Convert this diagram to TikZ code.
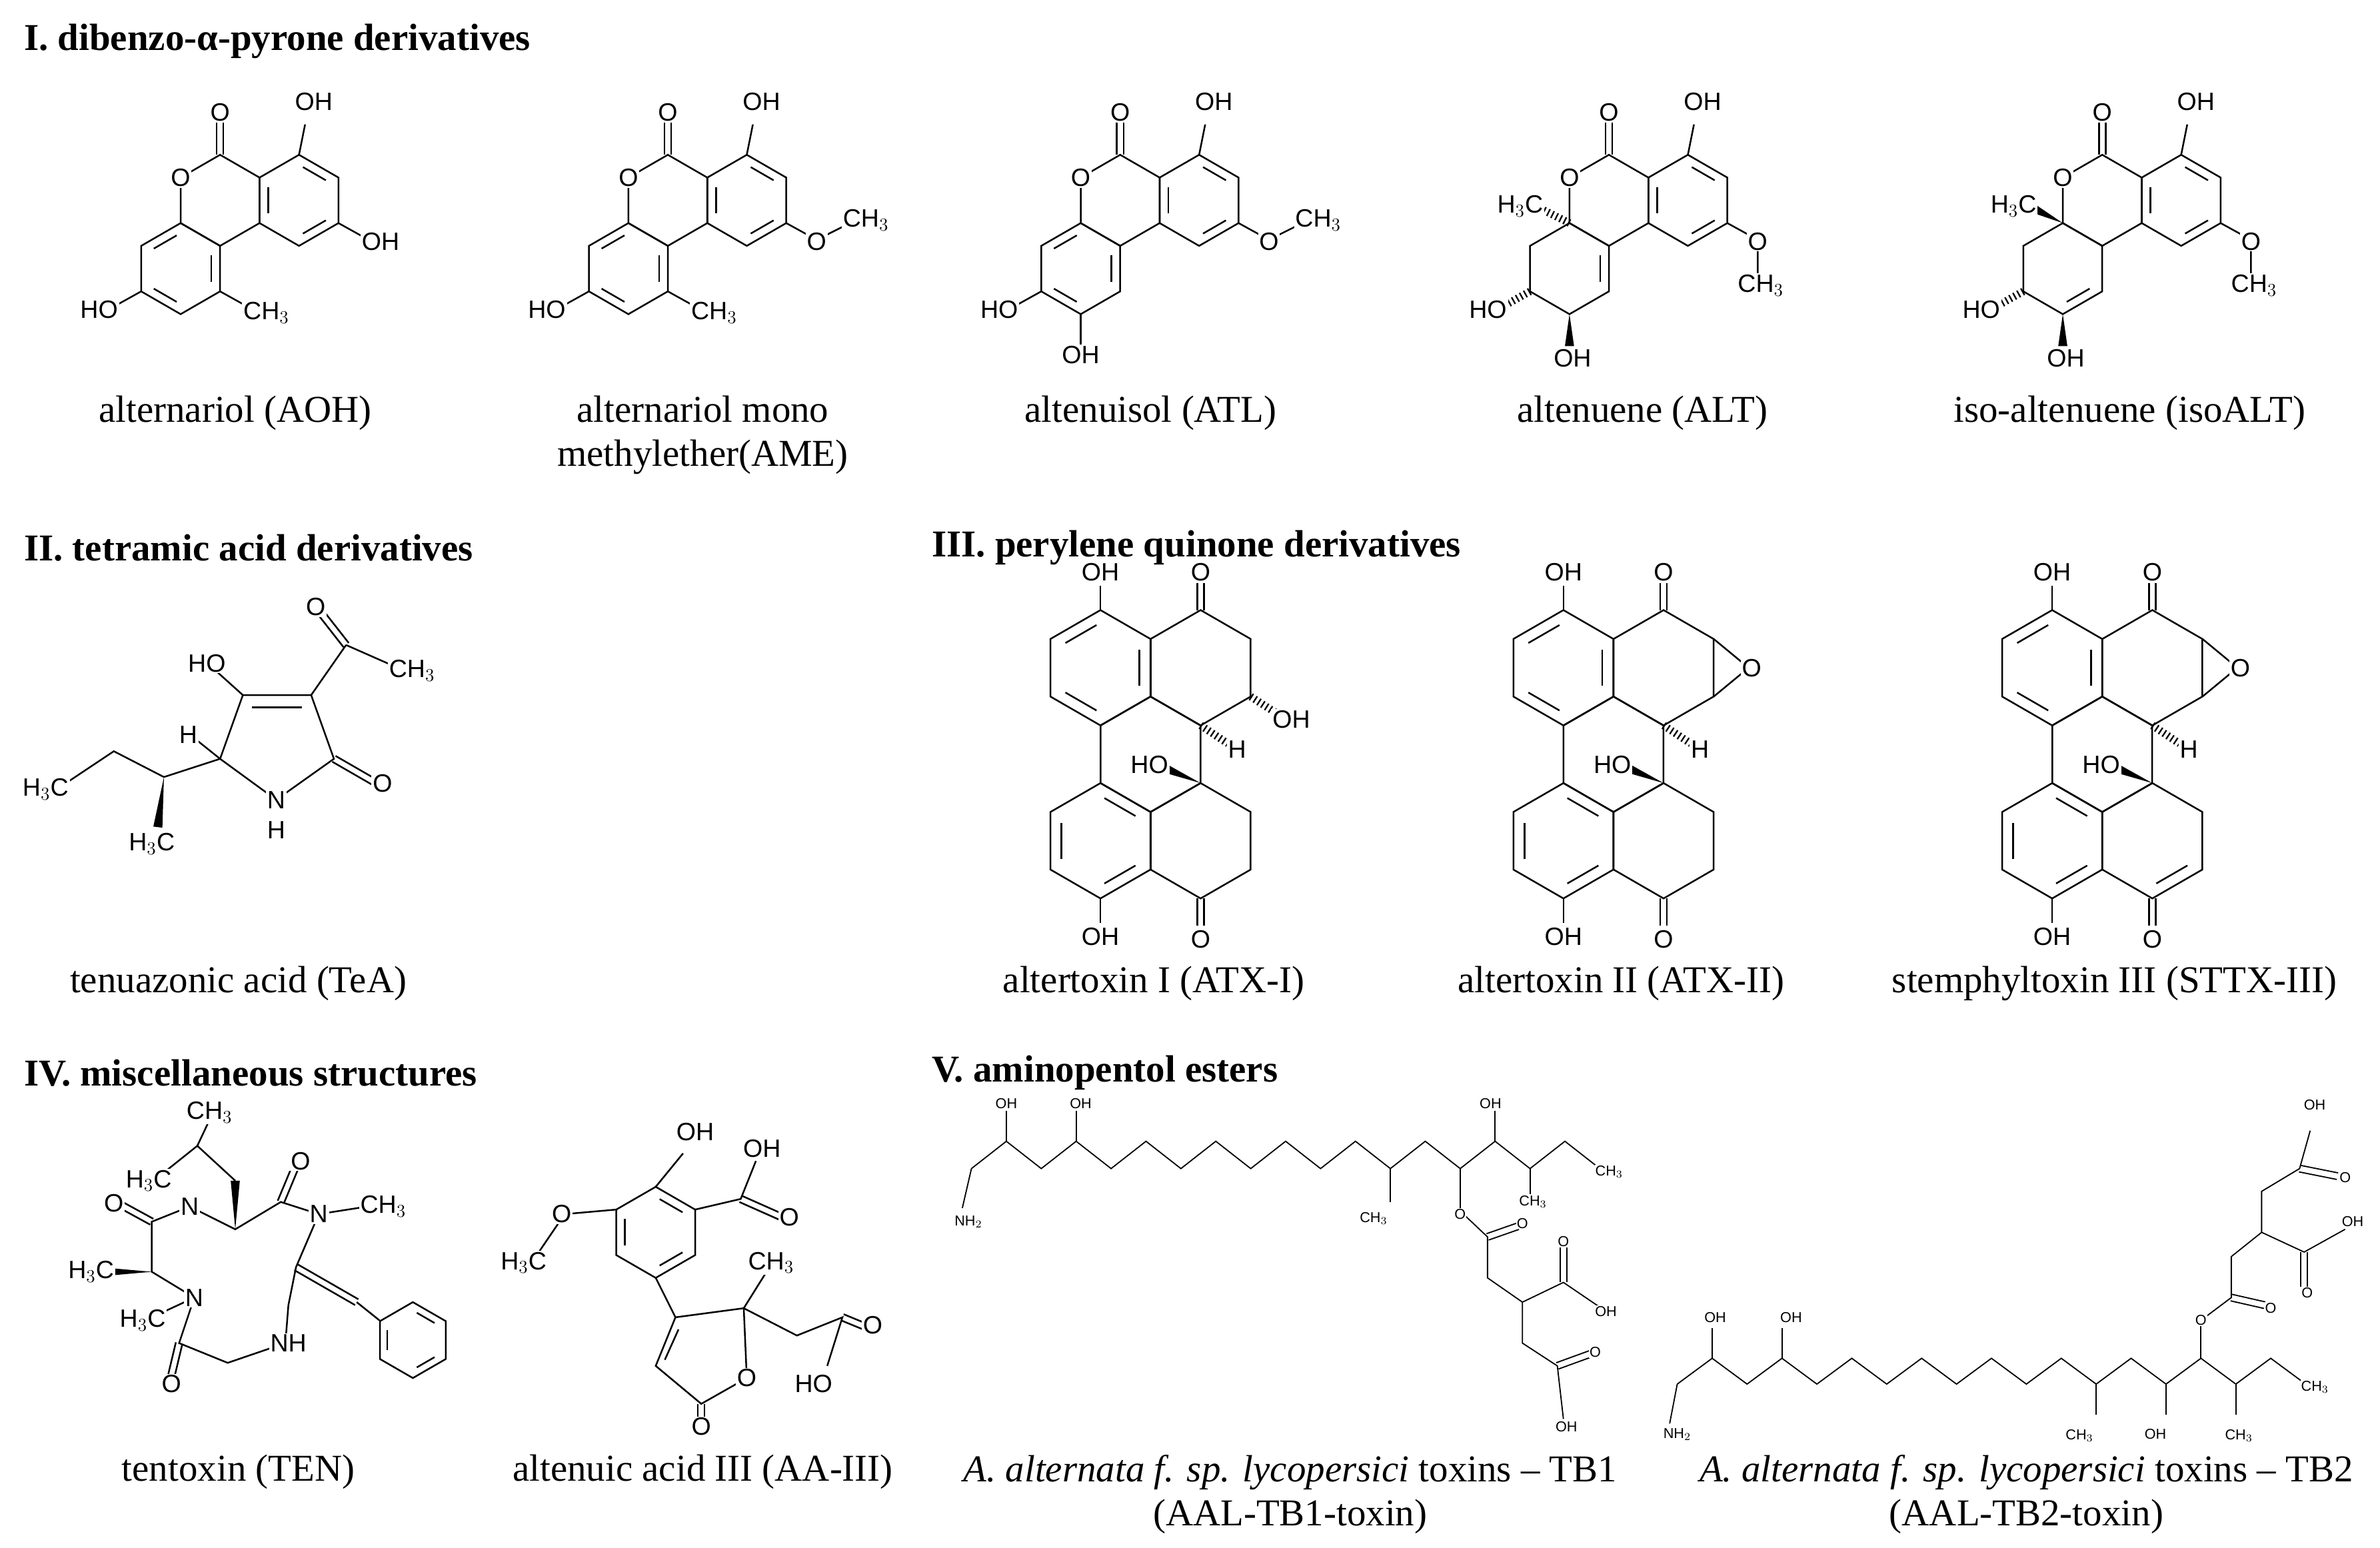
\documentclass[tikz,border=0pt]{standalone}
\usepackage{fontspec}
\setmainfont{Liberation Serif}
\setsansfont{Liberation Sans}
\usetikzlibrary{calc}
\newcommand\hexa[3]{\draw (#1,#2) +(30:#3) -- +(90:#3) -- +(150:#3) -- +(210:#3) -- +(270:#3) -- +(330:#3) -- cycle;}
\newcommand\ib[4]{\draw[shorten <=3pt,shorten >=3pt] (#1,#2) +(#4:#3*0.78) -- +(#4+60:#3*0.78);}
\newcommand\arom[4]{\hexa{#1}{#2}{#3}\ib{#1}{#2}{#3}{#4}\ib{#1}{#2}{#3}{#4+120}\ib{#1}{#2}{#3}{#4+240}}
\newcommand\dbond[2]{\draw ($(#1)!2.2pt!90:(#2)$) -- ($(#2)!2.2pt!-90:(#1)$); \draw ($(#1)!2.2pt!-90:(#2)$) -- ($(#2)!2.2pt!90:(#1)$);}
\newcommand\wdg[2]{\fill (#1) -- ($(#2)!3pt!90:(#1)$) -- ($(#2)!3pt!-90:(#1)$) -- cycle;}
\newcommand\hsh[2]{\draw[line width=5pt, dash pattern=on 1pt off 2pt] (#1) -- (#2);}
\tikzset{atom/.style={font=\fontsize{16.5}{16.5}\sffamily, inner sep=0.8pt, fill=white},
 tinyl/.style={font=\fontsize{9.5}{9.5}\sffamily, inner sep=0.5pt, fill=white},
 captxt/.style={font=\fontsize{25}{29}\selectfont, align=center},
 hdr/.style={font=\fontsize{25}{27}\selectfont\bfseries, anchor=west}}
% dibenzopyrone core
\newcommand\coreA{\hexa{0}{0}{30}\arom{52}{0}{30}{30}\arom{-26}{45}{30}{-30}
 \dbond{0,-30}{0,-52}\draw (52,-30)--(56,-50);}
\newcommand\coreB{\hexa{0}{0}{30}\arom{52}{0}{30}{30}\hexa{-26}{45}{30}\ib{-26}{45}{30}{-30}
 \dbond{0,-30}{0,-52}\draw (52,-30)--(56,-50);}
\newcommand\topO{\node[atom] at (0,-58) {O}; \node[atom] at (-26,-15) {O}; \node[atom,anchor=south west] at (48,-58) {OH};}
\newcommand\methoxy{\draw (78,15)--(98,26)--(120,15); \node[atom] at (98,27) {O}; \node[atom,anchor=west] at (114,13) {CH$_3$};}
% perylene core
\newcommand\pery{\arom{0}{0}{38}{-30}\hexa{66}{0}{38}\hexa{33}{57}{38}\arom{0}{114}{38}{30}\hexa{66}{114}{38}
 \dbond{66,-38}{66,-56}\draw (0,-38)--(0,-54);\draw (0,152)--(0,168);\dbond{66,152}{66,170}
 \wdg{66,76}{42,66}\hsh{66,38}{84,50}}
\newcommand\peryl{\node[atom] at (66,-63) {O};\node[atom] at (0,-63) {OH};\node[atom] at (0,177) {OH};\node[atom] at (66,179) {O};
 \node[atom,anchor=east] at (46,64) {HO};\node[atom] at (90,54) {H};}
\newcommand\epox{\draw (99,-19)--(122,0)--(99,19);\node[atom] at (124,0) {O};}
\begin{document}
\begin{tikzpicture}[x=1pt,y=-1pt,line width=1.1pt]
\useasboundingbox (0,0) rectangle (1568,1020);
% headings
\node[hdr] (h1) at (12,27) {I. dibenzo-α-pyrone derivatives};
\node[hdr] (h2) at (12,361) {II. tetramic acid derivatives};
\node[hdr] (h3) at (610,361) {III. perylene quinone derivatives};
\node[hdr] (h4) at (12,707) {IV. miscellaneous structures};
\node[hdr] (h5) at (610,707) {V. aminopentol esters};
% captions
\node[captxt] (c1) at (155,272) {alternariol (AOH)};
\node[captxt,anchor=north] (c2) at (463,257) {alternariol mono\\methylether(AME)};
\node[captxt] (c3) at (758,272) {altenuisol (ATL)};
\node[captxt] (c4) at (1082,272) {altenuene (ALT)};
\node[captxt] (c5) at (1403,272) {iso-altenuene (isoALT)};
\node[captxt] (c6) at (157,648) {tenuazonic acid (TeA)};
\node[captxt] (c7) at (760,648) {altertoxin I (ATX-I)};
\node[captxt] (c8) at (1068,648) {altertoxin II (ATX-II)};
\node[captxt] (c9) at (1393,648) {stemphyltoxin III (STTX-III)};
\node[captxt] (c10) at (157,970) {tentoxin (TEN)};
\node[captxt] (c11) at (463,970) {altenuic acid III (AA-III)};
\node[captxt,anchor=north] (c12) at (850,955) {\textit{A. alternata f. sp. lycopersici} toxins – TB1\\(AAL-TB1-toxin)};
\node[captxt,anchor=north] (c13) at (1335,955) {\textit{A. alternata f. sp. lycopersici} toxins – TB2\\(AAL-TB2-toxin)};
% AOH
\begin{scope}[shift={(145,132)}]
\coreA \draw (78,15)--(96,25); \draw (-52,60)--(-70,70); \draw (0,60)--(18,70);
\topO \node[atom,anchor=west] at (92,27) {OH}; \node[atom,anchor=east] at (-66,72) {HO}; \node[atom,anchor=west] at (14,74) {CH$_3$};
\end{scope}
% AME
\begin{scope}[shift={(440,132)}]
\coreA \draw (-52,60)--(-70,70); \draw (0,60)--(18,70);
\topO \methoxy \node[atom,anchor=east] at (-66,72) {HO}; \node[atom,anchor=west] at (14,74) {CH$_3$};
\end{scope}
% ATL
\begin{scope}[shift={(738,132)}]
\coreA \draw (-52,60)--(-70,70); \draw (-26,75)--(-26,95);
\topO \methoxy \node[atom,anchor=east] at (-66,72) {HO}; \node[atom] at (-26,102) {OH};
\end{scope}
% ALT
\begin{scope}[shift={(1060,132)}]
\coreB \hsh{-26,15}{-46,5} \hsh{-52,60}{-70,70} \wdg{-26,75}{-26,96}
\draw (78,15)--(98,26)--(98,48);
\topO \node[atom] at (98,27) {O}; \node[atom] at (100,56) {CH$_3$};
\node[atom,anchor=east] at (-42,4) {H$_3$C}; \node[atom,anchor=east] at (-66,72) {HO}; \node[atom] at (-24,104) {OH};
\end{scope}
% isoALT
\begin{scope}[shift={(1385,132)}]
\hexa{0}{0}{30}\arom{52}{0}{30}{30}\hexa{-26}{45}{30}\ib{-26}{45}{30}{30}
\dbond{0,-30}{0,-52}\draw (52,-30)--(56,-50);
\wdg{-26,15}{-46,5} \hsh{-52,60}{-70,70} \wdg{-26,75}{-26,96}
\draw (78,15)--(98,26)--(98,48);
\topO \node[atom] at (98,27) {O}; \node[atom] at (100,56) {CH$_3$};
\node[atom,anchor=east] at (-42,4) {H$_3$C}; \node[atom,anchor=east] at (-66,72) {HO}; \node[atom] at (-24,104) {OH};
\end{scope}
% TeA
\draw (160,458)--(205,458)--(220,500)--(182,527)--(145,500)--cycle;
\draw (166,466)--(199,466);
\draw (205,458)--(228,425); \dbond{228,425}{210,402}; \draw (228,425)--(262,440);
\draw (160,458)--(140,440);
\dbond{220,500}{246,515};
\draw (145,500)--(130,488);
\draw (145,500)--(108,512); \wdg{108,512}{104,545};
\draw (108,512)--(75,495)--(45,515);
\node[atom] at (208,400) {O}; \node[atom,anchor=west] at (255,442) {CH$_3$};
\node[atom,anchor=east] at (150,437) {HO}; \node[atom] at (252,516) {O};
\node[atom] at (182,527) {N}; \node[atom] at (182,547) {H};
\node[atom] at (124,484) {H}; \node[atom] at (100,556) {H$_3$C}; \node[atom] at (30,520) {H$_3$C};
% ATX-I
\begin{scope}[shift={(725,440)}]
\pery \hsh{99,19}{116,30} \peryl \node[atom,anchor=west] at (112,34) {OH};
\end{scope}
% ATX-II
\begin{scope}[shift={(1030,440)}]
\pery \epox \peryl
\end{scope}
% STTX-III
\begin{scope}[shift={(1352,440)}]
\pery \epox \ib{66}{114}{38}{30} \peryl
\end{scope}
% Tentoxin
\draw (125,795)--(155,810)--(185,792)--(210,800)--(195,835)--(190,860)--(188,885)--(150,898)--(118,885)--(128,855)--(100,838)--(100,805)--cycle;
\wdg{155,810}{155,778}
\draw (155,778)--(130,755)--(138,738); \draw (130,755)--(105,775);
\dbond{185,792}{195,768}; \draw (210,800)--(242,795);
\dbond{195,835}{235,858}; \draw (235,858)--(250,870);
\arom{272}{883}{25}{30}
\dbond{118,885}{113,906}; \dbond{100,805}{78,793};
\wdg{100,838}{66,838}; \draw (128,855)--(100,868);
\node[atom] at (138,733) {CH$_3$}; \node[atom] at (98,778) {H$_3$C};
\node[atom] at (198,765) {O}; \node[atom] at (125,795) {N}; \node[atom] at (210,800) {N};
\node[atom,anchor=west] at (236,795) {CH$_3$}; \node[atom] at (75,793) {O};
\node[atom] at (60,838) {H$_3$C}; \node[atom] at (128,855) {N}; \node[atom] at (94,870) {H$_3$C};
\node[atom] at (190,885) {NH}; \node[atom] at (113,912) {O};
% Altenuic acid III
\arom{432}{812}{30}{30}
\draw (432,782)--(450,760); \draw (458,797)--(488,790)--(498,765); \dbond{488,790}{515,802};
\draw (406,797)--(372,800)--(355,825);
\draw (432,842)--(445,868);
\draw (445,868)--(490,862)--(492,908)--(462,925)--(432,900)--cycle; \draw (447,876)--(438,896);
\draw (490,862)--(505,838); \draw (490,862)--(525,880)--(555,868)--(545,900); \dbond{555,868}{572,875};
\dbond{462,925}{462,940};
\node[atom] at (458,746) {OH}; \node[atom] at (502,757) {OH}; \node[atom] at (520,802) {O};
\node[atom] at (370,800) {O}; \node[atom] at (345,832) {H$_3$C};
\node[atom] at (508,832) {CH$_3$}; \node[atom] at (492,908) {O}; \node[atom] at (575,873) {O};
\node[atom] at (536,912) {HO}; \node[atom] at (462,940) {O};
% AAL-TB1
\draw[line width=0.8pt] (640,770) foreach \k in {1,...,18} { -- ({640+23*\k},{770-18*mod(\k,2)}) };
\begin{scope}[line width=0.8pt]
\draw (640,770)--(634,796); \draw (663,752)--(663,732); \draw (709,752)--(709,732);
\draw (916,770)--(916,792); \draw (962,770)--(962,796); \draw (985,752)--(985,732); \draw (1008,770)--(1008,787);
\draw (962,798)--(980,815)--(980,842)--(1003,858)--(1030,845)--(1055,862);
\dbond{980,815}{1000,808}; \dbond{1030,845}{1030,822};
\draw (1003,858)--(1003,885)--(1026,900)--(1030,935); \dbond{1026,900}{1048,892};
\end{scope}
\node[tinyl] at (638,805) {NH$_2$}; \node[tinyl] at (663,727) {OH}; \node[tinyl] at (712,727) {OH};
\node[tinyl] at (905,803) {CH$_3$}; \node[tinyl] at (962,800) {O}; \node[tinyl] at (982,727) {OH};
\node[tinyl] at (1010,792) {CH$_3$}; \node[tinyl,anchor=west] at (1050,772) {CH$_3$};
\node[tinyl] at (1003,806) {O}; \node[tinyl] at (1030,818) {O}; \node[tinyl] at (1058,864) {OH};
\node[tinyl] at (1051,891) {O}; \node[tinyl] at (1032,940) {OH};
% AAL-TB2
\draw[line width=0.8pt] (1105,912) foreach \k in {1,...,18} { -- ({1105+23*\k},{912-17*mod(\k,2)}) };
\begin{scope}[line width=0.8pt]
\draw (1105,912)--(1100,938); \draw (1128,895)--(1128,875); \draw (1174,895)--(1174,875);
\draw (1381,912)--(1381,932); \draw (1427,912)--(1427,932); \draw (1450,895)--(1450,872); \draw (1473,912)--(1473,932);
\draw (1450,870)--(1470,855)--(1470,828)--(1490,812)--(1518,825)--(1545,810); \dbond{1470,855}{1492,860};
\dbond{1518,825}{1518,848};
\draw (1490,812)--(1490,785)--(1515,770)--(1522,745); \dbond{1515,770}{1540,775};
\end{scope}
\node[tinyl] at (1105,945) {NH$_2$}; \node[tinyl] at (1130,868) {OH}; \node[tinyl] at (1180,868) {OH};
\node[tinyl] at (1370,946) {CH$_3$}; \node[tinyl] at (1420,945) {OH}; \node[tinyl] at (1450,870) {O};
\node[tinyl] at (1475,946) {CH$_3$}; \node[tinyl,anchor=west] at (1515,914) {CH$_3$};
\node[tinyl] at (1496,862) {O}; \node[tinyl] at (1520,852) {O}; \node[tinyl] at (1550,805) {OH};
\node[tinyl] at (1545,776) {O}; \node[tinyl] at (1525,728) {OH};
\end{tikzpicture}
\end{document}
